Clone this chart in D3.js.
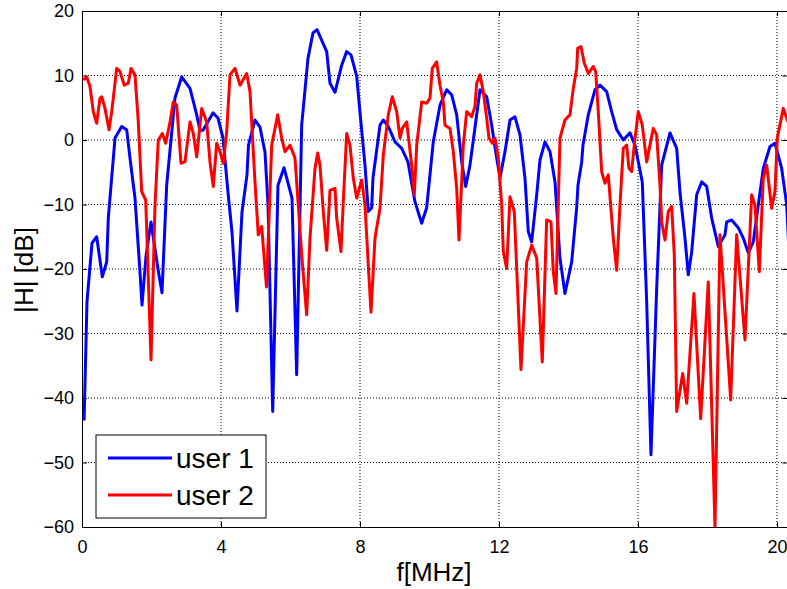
<!DOCTYPE html>
<html><head><meta charset="utf-8">
<script src="https://cdn.jsdelivr.net/npm/d3@7"></script>
<style>body{margin:0;background:#fff;overflow:hidden}</style>
</head><body>
<svg id="c" width="787" height="589"></svg>
<script>
// user 1 (blue): frequency [MHz] and |H| [dB]
const freq1 = [0.06,0.144,0.288,0.423,0.584,0.711,0.757,0.95,1.142,1.286,1.381,1.525,1.669,1.727,1.842,1.986,2.187,2.302,2.437,2.676,2.869,3.108,3.301,3.396,3.482,3.77,3.914,4.058,4.201,4.317,4.46,4.604,4.748,4.791,4.978,5.122,5.266,5.353,5.488,5.64,5.813,6.043,6.178,6.322,6.504,6.647,6.763,7.042,7.137,7.281,7.473,7.617,7.741,7.905,8.0,8.144,8.239,8.337,8.374,8.576,8.671,8.814,9.007,9.2,9.381,9.583,9.775,9.919,10.109,10.302,10.495,10.639,10.783,10.927,11.042,11.165,11.309,11.453,11.646,11.79,11.934,12.029,12.173,12.317,12.46,12.604,12.748,12.843,12.941,13.085,13.18,13.324,13.468,13.612,13.755,13.899,14.092,14.236,14.273,14.38,14.417,14.57,14.763,14.906,15.099,15.243,15.387,15.577,15.77,15.914,16.124,16.25,16.374,16.538,16.682,16.921,17.114,17.209,17.353,17.447,17.545,17.689,17.833,17.977,18.121,18.311,18.504,18.552,18.696,18.886,19.03,19.174,19.318,19.462,19.606,19.799,19.942,20.135,20.279,20.432];
const user1 = [-43.5,-25,-16,-15.0,-21.2,-18.9,-12.1,0.3,2.1,1.6,-2.8,-9,-20.5,-25.6,-18,-12.7,-20,-23.7,-7,6.5,9.8,8,3.9,1.5,1.5,4.2,3.4,0.3,-8.1,-14.3,-26.5,-11.2,-5.4,-0.8,3.1,2,-1.9,-10,-42.1,-7,-4.3,-9,-36.4,2.3,12.7,16.6,17.1,13.7,8.8,7.4,11.6,13.7,13.2,9.9,4.3,-3.9,-11.1,-10.5,-5.9,2.3,3.1,2.1,-0.3,-1.3,-3.4,-9.6,-12.9,-10.5,-0.3,5.4,7.8,7.0,3.9,-3.4,-7.2,-3.9,1.9,7.8,6.7,2.3,-2.8,-5.9,-1.8,3.1,3.6,0.8,-5.9,-14.2,-15.8,-8.5,-3.1,-0.3,-1.8,-6.5,-18.3,-23.8,-18.9,-10.5,-7,-3.4,-0.8,3.9,7.8,8.5,7.5,4.4,1.6,0,1.1,-0.8,-6.5,-25,-48.8,-23,-3.9,1.1,-1.3,-8.1,-15.2,-20.9,-17.4,-8.5,-6.5,-7.2,-12.1,-16.5,-14.7,-12.7,-12.4,-13.6,-15.2,-17.5,-15.8,-10.1,-4.4,-1.0,-0.5,-4.4,-10,-27];

// user 2 (red)
const freq2 = [0.037,0.135,0.23,0.325,0.423,0.518,0.567,0.662,0.777,0.855,0.999,1.094,1.217,1.332,1.41,1.525,1.62,1.718,1.833,1.986,2.101,2.196,2.311,2.409,2.532,2.627,2.725,2.849,2.964,3.108,3.203,3.301,3.445,3.588,3.683,3.778,3.876,3.971,4.066,4.164,4.259,4.403,4.547,4.74,4.835,4.978,5.073,5.171,5.309,5.459,5.632,5.747,5.842,5.986,6.129,6.224,6.322,6.466,6.561,6.705,6.783,6.849,6.944,7.042,7.137,7.281,7.329,7.453,7.519,7.617,7.712,7.807,7.905,8.049,8.144,8.239,8.317,8.432,8.576,8.671,8.814,8.929,9.056,9.151,9.217,9.344,9.488,9.563,9.632,9.776,9.919,10.014,10.081,10.207,10.302,10.397,10.446,10.59,10.685,10.783,10.849,10.973,11.071,11.214,11.309,11.358,11.453,11.548,11.646,11.712,11.807,11.885,11.98,12.078,12.124,12.221,12.317,12.44,12.633,12.797,12.941,13.085,13.246,13.372,13.496,13.563,13.64,13.755,13.899,14.043,14.138,14.236,14.265,14.36,14.455,14.57,14.714,14.783,14.858,14.955,15.05,15.145,15.289,15.387,15.482,15.577,15.674,15.741,15.818,15.893,16.008,16.124,16.25,16.345,16.44,16.538,16.633,16.682,16.777,16.872,16.97,17.045,17.114,17.286,17.401,17.611,17.804,18.023,18.216,18.36,18.668,18.84,19.079,19.272,19.367,19.491,19.606,19.704,19.847,19.942,20.009,20.181,20.279,20.374];
const user2 = [9.3,9.8,8.3,4.4,2.6,6.5,6.7,4.9,1.6,4.4,11.1,10.6,8.5,8.8,11.1,10.1,2.8,-8.0,-9.3,-34.1,-10.1,0,1.0,-0.5,2.8,5.9,5.4,-3.6,-3.4,2.8,1.0,-2.6,4.9,2.8,-3.4,-7.2,-0.5,-1.8,-3.6,1.3,10.1,11.1,8.5,10.3,7.5,-6.5,-14.7,-13.4,-22.8,-0.8,3.9,0.3,-1.8,-0.8,-2.8,-10.1,-17.8,-27.1,-15.2,-4.4,-2.0,-3.9,-11.1,-17.1,-7.8,-7.5,-12.1,-17.3,-9.6,1.0,-0.8,-5.9,-9.0,-6.2,-10.1,-19.4,-26.7,-15.2,-10.6,-2.3,3.9,6.7,4.4,0.3,1.8,2.8,-3.9,-8.5,-0.8,5.9,5.7,6.5,11.1,12.1,8.5,5.9,2.3,1.8,-1.8,-7.5,-15.5,-0.8,4.4,3.6,5.2,8.8,10.1,7.5,3.4,0.3,-0.5,0.3,-2.8,-10.1,-17.3,-19.9,-8.8,-11.1,-35.6,-18.9,-16.3,-18.3,-34.4,-12.4,-12.7,-20.4,-23.8,0.3,3.1,3.9,8.0,11.1,14.2,14.5,11.9,10.3,11.4,10.6,4.4,-4.9,-6.7,-5.4,-15.2,-20.2,-10.1,-1.3,-0.8,-4.4,-4.9,-0.8,4.4,2.3,-3.4,-0.8,1.8,0.8,-7,-12.7,-15.5,-11.1,-10.3,-17.8,-42.1,-36.2,-40.8,-23.8,-43.2,-22.0,-60,-14.7,-40.3,-14.7,-31,-8.5,-10.1,-20.4,-5.9,-3.9,-10.6,-8.0,0.3,4.9,3.4,2.0];

const xTicks = [0,4,8,12,16,20];
const yTicks = [20,10,0,-10,-20,-30,-40,-50,-60];
const seriesNames = ["user 1","user 2"];
const seriesColors = ["#0000ff","#ff0000"];
const xLabel = "f[MHz]";
const yLabel = "|H| [dB]";

const svg = d3.select("#c");
const L = 82, T = 11, R = 787.4, B = 527;
const x = d3.scaleLinear().domain([0, 20.3]).range([L, R]);
const y = d3.scaleLinear().domain([-60, 20]).range([B, T]);
const font = "'Liberation Sans', Arial, sans-serif";

svg.append("rect").attr("x",0).attr("y",0).attr("width",787).attr("height",589).attr("fill","#fff");

// grid
const g = svg.append("g").attr("stroke","#000").attr("stroke-width",1).attr("stroke-dasharray","1,2");
g.selectAll(".vx").data(xTicks.filter(v => v > 0)).enter().append("line")
  .attr("x1", d => x(d)).attr("x2", d => x(d)).attr("y1", T).attr("y2", B);
g.selectAll(".hy").data(yTicks.filter(v => v > -60 && v < 20)).enter().append("line")
  .attr("y1", d => y(d)).attr("y2", d => y(d)).attr("x1", L).attr("x2", R);

// axes
const ax = (sel) => { sel.selectAll("text").attr("font-family", font).attr("font-size", 18).attr("fill","#000");
  sel.selectAll("line").attr("stroke","#000"); sel.select(".domain").attr("stroke","#000"); };
svg.append("g").attr("transform",`translate(${L},0)`)
  .call(d3.axisLeft(y).tickValues(yTicks).tickSize(-5).tickSizeOuter(0).tickPadding(8).tickFormat(d3.format("d"))).call(ax);
svg.append("g").attr("transform",`translate(0,${B})`)
  .call(d3.axisBottom(x).tickValues(xTicks).tickSize(-5).tickSizeOuter(0).tickPadding(13).tickFormat(d3.format("d"))).call(ax);
svg.append("g").attr("transform",`translate(${R},0)`)
  .call(d3.axisRight(y).tickValues(yTicks).tickSize(-5).tickSizeOuter(0).tickFormat("")).call(ax);
svg.append("g").attr("transform",`translate(0,${T})`)
  .call(d3.axisTop(x).tickValues(xTicks).tickSize(-5).tickSizeOuter(0).tickFormat("")).call(ax);

// lines
svg.append("clipPath").attr("id","clip").append("rect").attr("x",L).attr("y",T).attr("width",R-L).attr("height",B-T);
const line = d3.line().x(d => x(d[0])).y(d => y(d[1]));
const data = [d3.zip(freq1, user1), d3.zip(freq2, user2)];
svg.append("g").attr("clip-path","url(#clip)").selectAll("path").data(data).enter().append("path")
  .attr("d", line).attr("fill","none").attr("stroke",(d,i)=>seriesColors[i]).attr("stroke-width",3)
  .attr("stroke-linejoin","round");

// labels
svg.append("text").attr("x",434).attr("y",581).attr("text-anchor","middle")
  .attr("font-family",font).attr("font-size",26).text(xLabel);
svg.append("text").attr("transform","translate(33,270) rotate(-90)").attr("text-anchor","middle")
  .attr("font-family",font).attr("font-size",26).text(yLabel);

// legend
const lg = svg.append("g");
lg.append("rect").attr("x",96).attr("y",435).attr("width",170).attr("height",83).attr("fill","#fff").attr("stroke","#000").attr("stroke-width",1);
seriesNames.forEach((n,i) => {
  const yy = 458 + i*37;
  lg.append("line").attr("x1",108).attr("x2",172).attr("y1",yy).attr("y2",yy).attr("stroke",seriesColors[i]).attr("stroke-width",3);
  lg.append("text").attr("x",176).attr("y",yy+10).attr("font-family",font).attr("font-size",28).text(n);
});
</script>
</body></html>
